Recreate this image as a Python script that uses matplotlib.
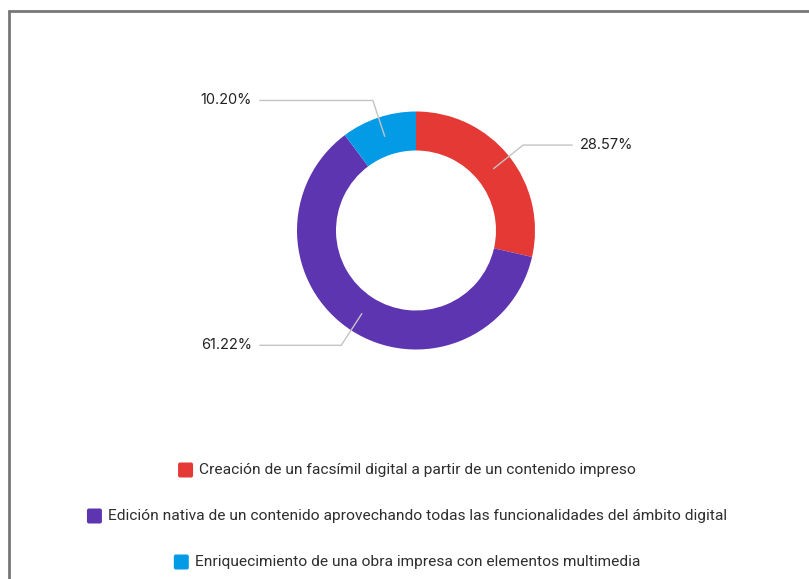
import numpy as np
import matplotlib
matplotlib.use("Agg")
import matplotlib.pyplot as plt
from matplotlib.patches import FancyBboxPatch
from matplotlib.lines import Line2D

labels = [
    "Creación de un facsímil digital a partir de un contenido impreso",
    "Edición nativa de un contenido aprovechando todas las funcionalidades del ámbito digital",
    "Enriquecimiento de una obra impresa con elementos multimedia",
]
shares = [28.57, 61.22, 10.20]
colors = ["#e53935", "#5e35b1", "#039be5"]

W, H = 809, 579
fig = plt.figure(figsize=(W / 100, H / 100), dpi=100)
ax = fig.add_axes([0, 0, 1, 1])

# pixel-like coordinates, y measured upward
cx, cy = 416, H - 230.5
r_out, r_in = 119, 80

wedges, _ = ax.pie(shares, colors=colors, startangle=90, counterclock=False,
                   center=(cx, cy), radius=r_out,
                   wedgeprops=dict(width=r_out - r_in, edgecolor="none"))
ax.set_xlim(0, W)
ax.set_ylim(0, H)
ax.set_aspect("equal")
ax.axis("off")

# leader lines and percentage labels
r_mid = (r_out + r_in) / 2
r_elb = 137
label_x = {0: 572, 1: 260, 2: 260}
for i, w in enumerate(wedges):
    ang = np.deg2rad((w.theta1 + w.theta2) / 2)
    x0, y0 = cx + r_mid * np.cos(ang), cy + r_mid * np.sin(ang)
    x1, y1 = cx + r_elb * np.cos(ang), cy + r_elb * np.sin(ang)
    x2 = label_x[i]
    ax.add_line(Line2D([x0, x1, x2], [y0, y1, y1], color="#c4c4c4", lw=1.0))
    if x2 > cx:
        ax.text(x2 + 8, y1, f"{shares[i]:.2f}%", ha="left", va="center",
                fontsize=10.5, family="Inter", color="#222222")
    else:
        ax.text(x2 - 8, y1, f"{shares[i]:.2f}%", ha="right", va="center",
                fontsize=10.5, family="Inter", color="#222222")

# legend rows, each one centred on its own
renderer = fig.canvas.get_renderer()
row_y = [H - 470, H - 516, H - 562]
sq = 15
gap = 6
for lab, col, yy in zip(labels, colors, row_y):
    t = ax.text(0, yy, lab, ha="left", va="center", fontsize=11.15,
                family="Roboto", color="#2e2e2e")
    tw = t.get_window_extent(renderer).width
    total = sq + gap + tw
    x_start = 407 - total / 2
    t.set_x(x_start + sq + gap)
    ax.add_patch(FancyBboxPatch((x_start + 2, yy - sq / 2 + 2), sq - 4, sq - 4,
                                boxstyle="round,pad=2", fc=col, ec="none"))

# frame on the left and top edges
ax.add_line(Line2D([9, 9], [0, H - 10], color="#777777", lw=2, solid_capstyle="butt"))
ax.add_line(Line2D([8, W], [H - 10.5, H - 10.5], color="#777777", lw=2, solid_capstyle="butt"))

fig.savefig("out.png", dpi=100)
